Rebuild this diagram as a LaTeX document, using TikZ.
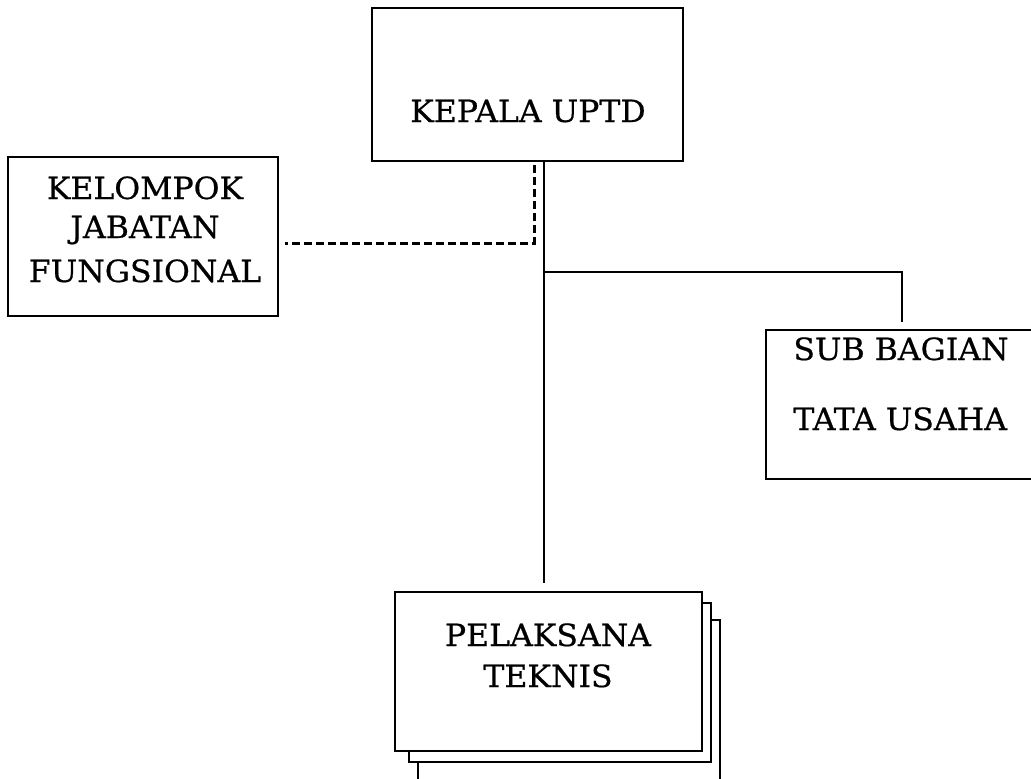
\documentclass[tikz,border=0pt]{standalone}
\usepackage{fontspec}
\setmainfont[FakeBold=0.6,FakeStretch=1.03]{DejaVu Serif}
\begin{document}
\begin{tikzpicture}[x=0.5pt,y=-0.5pt,
  box/.style={draw,line width=1.3pt,inner sep=0pt,outer sep=0pt,fill=white},
  txt/.style={anchor=base,font=\fontsize{15.3}{18}\selectfont,inner sep=0pt},
  conn/.style={line width=1.3pt},
  dconn/.style={line width=1.5pt,dash pattern=on 4pt off 2pt}]
\useasboundingbox (0,0) rectangle (1031,778);
\clip (0,0) rectangle (1031,778);
% boxes
\node[box,minimum width=155.5pt,minimum height=76.5pt] (kepala) at (527.5,84.5) {};
\node[box,minimum width=135pt,minimum height=79.5pt] (kelompok) at (143,236.5) {};
\node[box,minimum width=142pt,minimum height=74.5pt] (sub) at (908,404.5) {};
\node[box,minimum width=151pt,minimum height=85pt] (pel3) at (569,705) {};
\node[box,minimum width=151pt,minimum height=79.5pt] (pel2) at (560,682.5) {};
\node[box,minimum width=153.5pt,minimum height=79.5pt] (pel) at (548.5,671.5) {};
% texts
\node[txt] (t1) at (528,122) {KEPALA UPTD};
\node[txt] (t2) at (145,199) {KELOMPOK};
\node[txt] (t3) at (145,238) {JABATAN};
\node[txt] (t4) at (145,282) {FUNGSIONAL};
\node[txt,anchor=base west] (t5) at (793,360) {SUB BAGIAN};
\node[txt,anchor=base west] (t6) at (793,430) {TATA USAHA};
\node[txt] (t7) at (548,646) {PELAKSANA};
\node[txt] (t8) at (548,687) {TEKNIS};
% connectors
\coordinate (j) at (544,272);
\coordinate (r) at (902,272);
\coordinate (d) at (534,243);
\draw[conn] (kepala.south -| j) -- ([yshift=4.5pt]pel.north -| j);
\draw[conn] (j) -- (r) -- ([yshift=4pt]sub.north -| r);
\draw[dconn] ([yshift=-2pt]kepala.south -| d) -- (d) -- ([xshift=3.5pt]kelompok.east |- d);
\end{tikzpicture}
\end{document}
